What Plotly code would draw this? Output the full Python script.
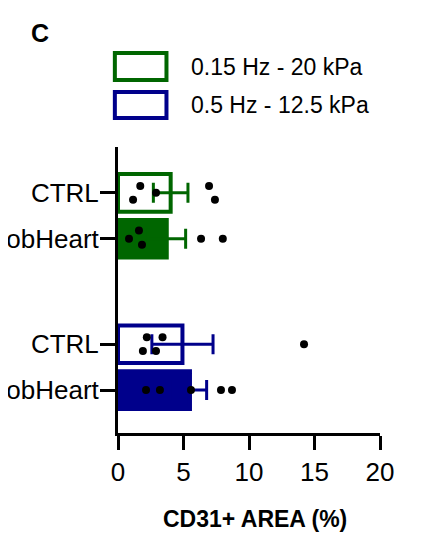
import numpy as np
import plotly.graph_objects as go

# ---- data ----
categories = ["CTRL", "RobHeart", "CTRL", "RobHeart"]
cat_pos = [0, 1, 3.3, 4.3]
groups = ["0.15 Hz - 20 kPa", "0.15 Hz - 20 kPa", "0.5 Hz - 12.5 kPa", "0.5 Hz - 12.5 kPa"]
filled = [False, True, False, True]

pts_ctrl_green = [1.7, 1.15, 2.9, 6.95, 7.4]
pts_rob_green = [0.84, 1.6, 1.83, 6.34, 8.0]
pts_ctrl_blue = [2.2, 3.4, 1.9, 2.9, 14.2]
pts_rob_blue = [2.14, 3.2, 5.57, 7.86, 8.7]
points = [pts_ctrl_green, pts_rob_green, pts_ctrl_blue, pts_rob_blue]

jitter_ctrl_green = [-0.15, 0.15, 0.0, -0.15, 0.15]
jitter_rob_green = [0.0, -0.18, 0.13, 0.0, 0.0]
jitter_ctrl_blue = [-0.15, -0.15, 0.15, 0.15, 0.0]
jitter_rob_blue = [0.0, 0.0, 0.0, 0.0, 0.0]
jitters = [jitter_ctrl_green, jitter_rob_green, jitter_ctrl_blue, jitter_rob_blue]

x_ticks = [0, 5, 10, 15, 20]

GREEN = "#006600"
BLUE = "#00008B"
colors = [GREEN, GREEN, BLUE, BLUE]
FONT = "Liberation Sans, Arial, sans-serif"

fig = go.Figure()

for i in range(4):
    vals = np.array(points[i])
    mean = vals.mean()
    sem = vals.std(ddof=1) / np.sqrt(len(vals))
    c = colors[i]
    fig.add_trace(go.Bar(
        x=[mean], y=[cat_pos[i]], orientation="h", width=0.82,
        marker=dict(color=c if filled[i] else "white", line=dict(color=c, width=4)),
        error_x=dict(type="data", array=[sem], color=c, thickness=3, width=10),
        showlegend=False,
    ))

for i in range(4):
    fig.add_trace(go.Scatter(
        x=points[i], y=[cat_pos[i] + j for j in jitters[i]], mode="markers",
        marker=dict(color="black", size=8), showlegend=False, cliponaxis=False,
    ))

# legend drawn as shapes + text
leg = [(GREEN, groups[0], 1.329, 1.234, 1.28), (BLUE, groups[2], 1.192, 1.101, 1.147)]
for c, txt, y1, y0, yt in leg:
    fig.add_shape(type="rect", xref="paper", yref="paper", x0=-0.012, x1=0.185,
                  y0=y0, y1=y1, line=dict(color=c, width=4), fillcolor="white")
    fig.add_annotation(text=txt, xref="paper", yref="paper", x=0.27, y=yt,
                       xanchor="left", yanchor="middle", showarrow=False,
                       font=dict(family=FONT, size=23, color="black"))

fig.add_annotation(text="<b>C</b>", xref="paper", yref="paper", x=-0.34, y=1.40,
                   xanchor="left", yanchor="middle", showarrow=False,
                   font=dict(family=FONT, size=25, color="black"))
fig.add_annotation(text="<b>CD31+ AREA (%)</b>", xref="paper", yref="paper", x=0.523, y=-0.30,
                   xanchor="center", yanchor="middle", showarrow=False,
                   font=dict(family=FONT, size=23, color="black"))

fig.update_layout(
    width=431, height=535,
    margin=dict(l=110, r=59, t=139, b=110, autoexpand=False),
    plot_bgcolor="white", paper_bgcolor="white",
    barmode="overlay",
    font=dict(family=FONT, color="black"),
    xaxis=dict(range=[0, 20], tickvals=x_ticks, ticktext=[str(t) for t in x_ticks],
               showline=True, linecolor="black", linewidth=3, ticks="outside",
               ticklen=14, tickwidth=3, tickcolor="black", showgrid=False, zeroline=False,
               automargin=False,
               tickfont=dict(size=26, family=FONT, color="black")),
    yaxis=dict(range=[5.235, -1.0], tickvals=cat_pos, ticktext=categories,
               showline=True, linecolor="black", linewidth=3, ticks="outside",
               ticklen=15, tickwidth=3, tickcolor="black", showgrid=False, zeroline=False,
               automargin=False, ticklabelstandoff=-4,
               tickfont=dict(size=26, family=FONT, color="black")),
)

fig.write_html("out.html")
